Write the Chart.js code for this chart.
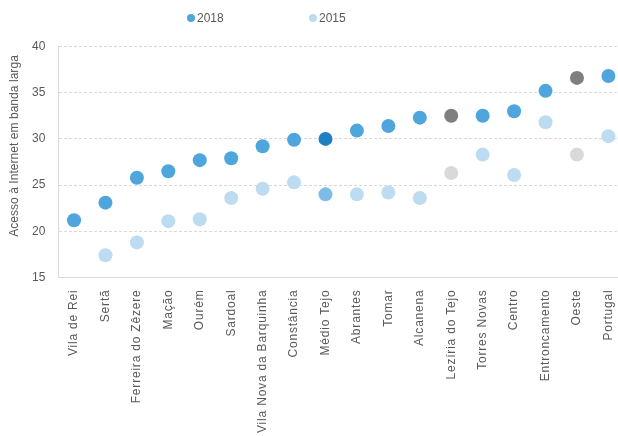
<!DOCTYPE html>
<html>
<head>
<meta charset="utf-8">
<script src="https://cdn.jsdelivr.net/npm/chart.js@4/dist/chart.umd.min.js"></script>
<style>
  html, body { margin: 0; padding: 0; background: #fff; overflow: hidden; }
  #wrap { position: relative; width: 618px; height: 436px; overflow: hidden; }
  #c { position: absolute; left: 0; top: 0; }
  .leg { position: absolute; top: 10px; font: 12px "Liberation Sans", Arial, sans-serif;
         color: #595959; line-height: 16px; white-space: nowrap; }
  .leg i { display: inline-block; width: 8px; height: 8px; border-radius: 50%;
           margin-right: 2px; vertical-align: 0px; }
  #ytitle { position: absolute; left: -85px; top: 138px; width: 200px; height: 16px;
            line-height: 16px; text-align: center; white-space: nowrap;
            font: 12px "Liberation Sans", Arial, sans-serif; color: #595959;
            letter-spacing: 0.05px; transform: rotate(-90deg); }
</style>
</head>
<body>
<div id="wrap">
  <canvas id="c" width="635" height="436"></canvas>
  <div id="legend"></div>
  <div id="ytitle"></div>
</div>
<script>
// Regions and municipalities, ordered by 2018 value
const categories = [
  'Vila de Rei', 'Sertã', 'Ferreira do Zêzere', 'Mação', 'Ourém', 'Sardoal',
  'Vila Nova da Barquinha', 'Constância', 'Médio Tejo', 'Abrantes', 'Tomar',
  'Alcanena', 'Lezíria do Tejo', 'Torres Novas', 'Centro', 'Entroncamento',
  'Oeste', 'Portugal'
];

// Broadband internet access, 2018 and 2015
const values2018 = [21.2, 23.1, 25.8, 26.5, 27.7, 27.9, 29.2, 29.9, 30.0, 30.9, 31.4, 32.3, 32.5, 32.5, 33.0, 35.2, 36.6, 36.8];
const values2015 = [null, 17.4, 18.8, 21.1, 21.3, 23.6, 24.6, 25.3, 24.0, 24.0, 24.2, 23.6, 26.3, 28.3, 26.1, 31.8, 28.3, 30.3];

const yTicks = [15, 20, 25, 30, 35, 40];
const seriesNames = ['2018', '2015'];
const yAxisTitle = 'Acesso à Internet em banda larga';

// Highlight colours: Médio Tejo in a deeper blue, the other NUTS regions in grey
const base2018 = '#4EA6DC', base2015 = '#BDDCF2';
const special2018 = { 'Médio Tejo': '#1F80C1', 'Lezíria do Tejo': '#7F7F7F', 'Oeste': '#7F7F7F' };
const special2015 = { 'Médio Tejo': '#7DBCE6', 'Lezíria do Tejo': '#D9D9D9', 'Oeste': '#D9D9D9' };
const colors2018 = categories.map(c => special2018[c] || base2018);
const colors2015 = categories.map(c => special2015[c] || base2015);

const FONT = '"Liberation Sans", Arial, sans-serif';
const TEXT = '#595959';

// Slightly wider letter spacing for the rotated category labels
const spacedXLabels = {
  id: 'spacedXLabels',
  afterLayout(chart) {
    const sx = chart.scales.x;
    if (!sx || sx._spaced) return;
    const orig = sx.drawLabels;
    sx.drawLabels = function (area) {
      const ctx = this.ctx;
      ctx.save();
      ctx.letterSpacing = '0.8px';
      orig.call(this, area);
      ctx.restore();
    };
    sx._spaced = true;
  }
};

const chart = new Chart(document.getElementById('c'), {
  type: 'line',
  data: {
    labels: categories,
    datasets: [
      {
        label: seriesNames[0], data: values2018, showLine: false,
        pointRadius: 7, pointHoverRadius: 7, pointBorderWidth: 0,
        pointBackgroundColor: colors2018, backgroundColor: base2018, borderColor: base2018,
        order: 1
      },
      {
        label: seriesNames[1], data: values2015, showLine: false,
        pointRadius: 7, pointHoverRadius: 7, pointBorderWidth: 0,
        pointBackgroundColor: colors2015, backgroundColor: base2015, borderColor: base2015,
        order: 2
      }
    ]
  },
  plugins: [spacedXLabels],
  options: {
    responsive: false,
    animation: false,
    events: [],
    layout: { padding: { top: 46.5, right: 0, left: 0, bottom: 0 } },
    plugins: { legend: { display: false }, tooltip: { enabled: false } },
    scales: {
      x: {
        offset: true,
        grid: { display: false, drawTicks: false },
        border: { display: true, color: '#D9D9D9', width: 1 },
        ticks: {
          autoSkip: false, minRotation: 90, maxRotation: 90, padding: 12,
          color: TEXT, font: { family: FONT, size: 12 }
        },
        afterFit: s => { s.height = 158.5; }
      },
      y: {
        min: 15, max: 40,
        afterBuildTicks: s => { s.ticks = yTicks.map(v => ({ value: v })); },
        grid: { color: '#D9D9D9', lineWidth: 1, drawTicks: false },
        border: { display: true, color: '#D9D9D9', width: 1, dash: [3, 2] },
        ticks: { padding: 13, color: TEXT, font: { family: FONT, size: 12 } },
        afterFit: s => { s.width = 58.3; }
      }
    }
  }
});
chart.draw();

document.getElementById('ytitle').textContent = yAxisTitle;

// Legend built from the chart's own datasets
const legend = document.getElementById('legend');
const legendLeft = [187, 309];
chart.data.datasets.forEach((ds, i) => {
  const item = document.createElement('div');
  item.className = 'leg';
  item.style.left = legendLeft[i] + 'px';
  const dot = document.createElement('i');
  dot.style.background = ds.backgroundColor;
  item.appendChild(dot);
  item.appendChild(document.createTextNode(ds.label));
  legend.appendChild(item);
});
</script>
</body>
</html>
